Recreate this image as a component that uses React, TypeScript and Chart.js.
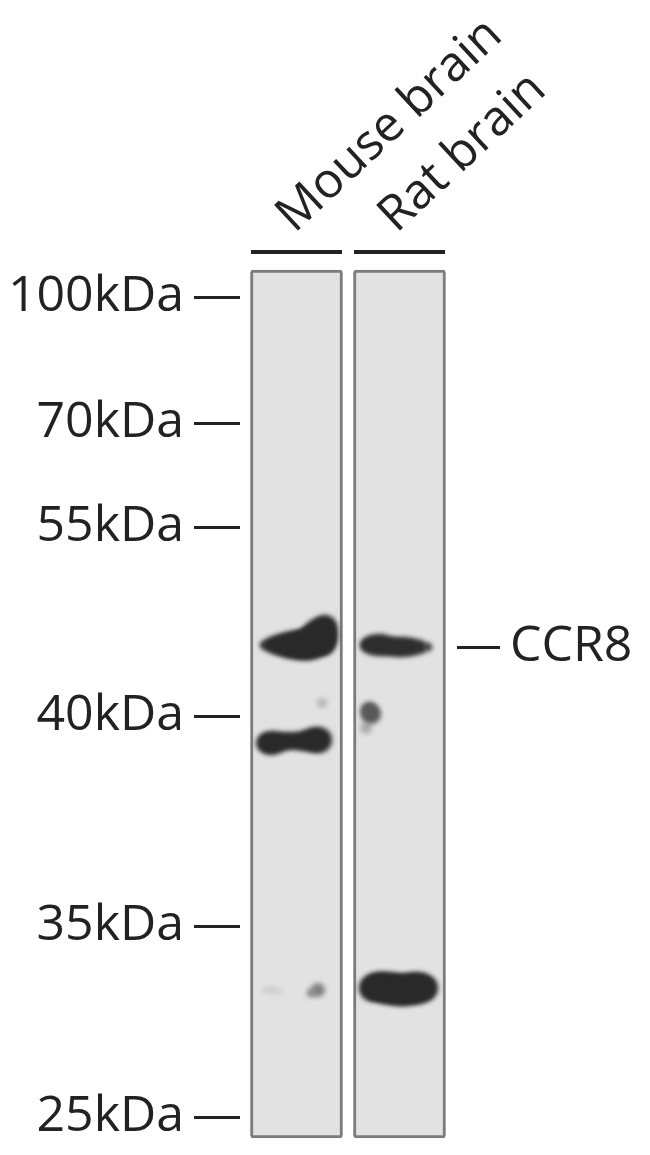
import { useEffect, useRef } from 'react';
import { Chart } from 'chart.js/auto';

const laneNames = ['Mouse brain', 'Rat brain'];
const laneCenters = [296.5, 399.5];
const laneSpan = [270, 1138];
const laneLabelAnchors = [325, 427];
const headerMouse = [{ x: 251, y: 252 }, { x: 342, y: 252 }];
const headerRat = [{ x: 354, y: 252 }, { x: 445, y: 252 }];

const markerLabels = ['100kDa', '70kDa', '55kDa', '40kDa', '35kDa', '25kDa'];
const markerPositions = [297, 423, 527, 716, 926, 1117];
const targetLabels = ['CCR8'];
const targetPositions = [647];

// band outlines: x across the lane, y migration, r half thickness
const mouseUpper = [
  { x: 264, y: 645, r: 4 }, { x: 270, y: 645, r: 7 }, { x: 277, y: 645, r: 10 },
  { x: 285, y: 645, r: 12 }, { x: 293, y: 645, r: 14 }, { x: 301, y: 645, r: 15 },
  { x: 308, y: 644, r: 16 }, { x: 315, y: 641, r: 17 }, { x: 320, y: 636, r: 18 },
  { x: 325, y: 627, r: 12 }, { x: 324, y: 644, r: 11 }, { x: 326, y: 636, r: 9 },
];
const mouseLower = [
  { x: 266, y: 743, r: 10 }, { x: 272, y: 743, r: 12 }, { x: 280, y: 742, r: 10 },
  { x: 288, y: 741, r: 9 }, { x: 296, y: 741, r: 9 }, { x: 304, y: 741, r: 10 },
  { x: 312, y: 740, r: 12 }, { x: 319, y: 740, r: 13 },
];
const mouseSpot = [{ x: 322, y: 703, r: 5 }];
const mouseFaintLeft = [{ x: 266, y: 990, r: 3 }, { x: 272, y: 990, r: 4 }, { x: 279, y: 991, r: 3 }];
const mouseFaintRight = [{ x: 311, y: 993, r: 4 }, { x: 318, y: 990, r: 7 }];
const ratUpper = [
  { x: 366, y: 645, r: 6 }, { x: 372, y: 645, r: 10 }, { x: 380, y: 645, r: 11 },
  { x: 388, y: 646, r: 10 }, { x: 396, y: 647, r: 10 }, { x: 404, y: 647, r: 10 },
  { x: 412, y: 647, r: 9 }, { x: 420, y: 647, r: 7 }, { x: 428, y: 647, r: 4 },
];
const ratSmear = [{ x: 369, y: 710, r: 8 }, { x: 371, y: 714, r: 10 }];
const ratSmearTail = [{ x: 366, y: 728, r: 6 }];
const ratLower = [
  { x: 378, y: 987, r: 15 }, { x: 386, y: 988, r: 16 }, { x: 394, y: 989, r: 16 },
  { x: 402, y: 990, r: 16 }, { x: 410, y: 989, r: 16 }, { x: 418, y: 988, r: 16 },
  { x: 425, y: 988, r: 13 }, { x: 372, y: 988, r: 13 },
];

const textFont = 'Open Sans';

const bandBlur = {
  id: 'bandBlur',
  beforeDatasetDraw(chart: any, args: any) {
    if (chart.data.datasets[args.index].type !== 'bubble') return;
    chart.ctx.save();
    chart.ctx.filter = 'blur(2.5px)';
  },
  afterDatasetDraw(chart: any, args: any) {
    if (chart.data.datasets[args.index].type !== 'bubble') return;
    chart.ctx.restore();
  },
};

function band(data: { x: number; y: number; r: number }[], color: string) {
  return { type: 'bubble' as const, data, backgroundColor: color, borderWidth: 0, order: 1, clip: false };
}

function header(data: { x: number; y: number }[]) {
  return {
    type: 'line' as const,
    data,
    borderColor: '#222222',
    borderWidth: 4,
    pointRadius: 0,
    order: 2,
    clip: false,
  };
}

// fixed axis box, no extra padding for the long labels
function fixBox(scale: any, side: 'width' | 'height', size: number) {
  scale[side] = size;
  scale.paddingLeft = 0;
  scale.paddingRight = 0;
  scale.paddingTop = 0;
  scale.paddingBottom = 0;
}

export default function App() {
  const canvasRef = useRef<HTMLCanvasElement>(null);

  useEffect(() => {
    if (!canvasRef.current) return;
    const chart = new Chart(canvasRef.current, {
      data: {
        datasets: [
          band(mouseUpper, '#2a2a2a'),
          band(mouseLower, '#2a2a2a'),
          band(mouseSpot, '#b4b4b4'),
          band(mouseFaintLeft, '#cacaca'),
          band(mouseFaintRight, '#808080'),
          band(ratUpper, '#2e2e2e'),
          band(ratSmear, '#585858'),
          band(ratSmearTail, '#aaaaaa'),
          band(ratLower, '#2a2a2a'),
          header(headerMouse),
          header(headerRat),
          {
            type: 'bar' as const,
            data: laneCenters.map((x) => ({ x, y: laneSpan })),
            backgroundColor: '#e2e2e2',
            borderColor: '#7c7c7c',
            borderWidth: 3,
            borderSkipped: false,
            borderRadius: 3,
            barThickness: 92,
            order: 3,
            clip: false,
          },
        ] as any,
      },
      plugins: [bandBlur],
      options: {
        animation: false,
        responsive: false,
        devicePixelRatio: 1,
        layout: { padding: 0, autoPadding: false },
        plugins: { legend: { display: false }, tooltip: { enabled: false } },
        scales: {
          x: {
            type: 'linear',
            position: 'top',
            offset: false,
            min: 240,
            max: 457,
            afterFit: (scale: any) => fixBox(scale, 'height', 245),
            afterBuildTicks: (scale: any) => { scale.ticks = laneLabelAnchors.map((value) => ({ value })); },
            grid: { display: false, drawTicks: false },
            border: { display: false },
            ticks: {
              autoSkip: false,
              minRotation: 43,
              maxRotation: 43,
              padding: 0,
              color: '#222222',
              font: { family: textFont, size: 49 },
              callback: (_v: any, i: number) => laneNames[i],
            },
          },
          y: {
            type: 'linear',
            position: 'left',
            reverse: true,
            min: 245,
            max: 1155,
            afterFit: (scale: any) => fixBox(scale, 'width', 240),
            afterBuildTicks: (scale: any) => { scale.ticks = markerPositions.map((value) => ({ value })); },
            grid: { drawOnChartArea: false, tickLength: 46, tickColor: '#222222', tickWidth: 3 },
            border: { display: false },
            ticks: {
              padding: 10,
              color: '#222222',
              font: { family: textFont, size: 50 },
              callback: (_v: any, i: number) => markerLabels[i],
            },
          },
          y2: {
            type: 'linear',
            position: 'right',
            reverse: true,
            min: 245,
            max: 1155,
            afterFit: (scale: any) => fixBox(scale, 'width', 193),
            afterBuildTicks: (scale: any) => { scale.ticks = targetPositions.map((value) => ({ value })); },
            grid: { drawOnChartArea: false, tickLength: 43, tickColor: '#222222', tickWidth: 3 },
            border: { display: false },
            ticks: {
              padding: 10,
              color: '#222222',
              font: { family: textFont, size: 50 },
              callback: (_v: any, i: number) => targetLabels[i],
            },
          },
        },
      } as any,
    });
    return () => chart.destroy();
  }, []);

  return (
    <div style={{ position: 'absolute', left: 0, top: 0, width: 650, height: 1155, background: '#ffffff' }}>
      <canvas ref={canvasRef} width={650} height={1155} style={{ display: 'block', filter: 'blur(0.7px)' }} />
    </div>
  );
}
